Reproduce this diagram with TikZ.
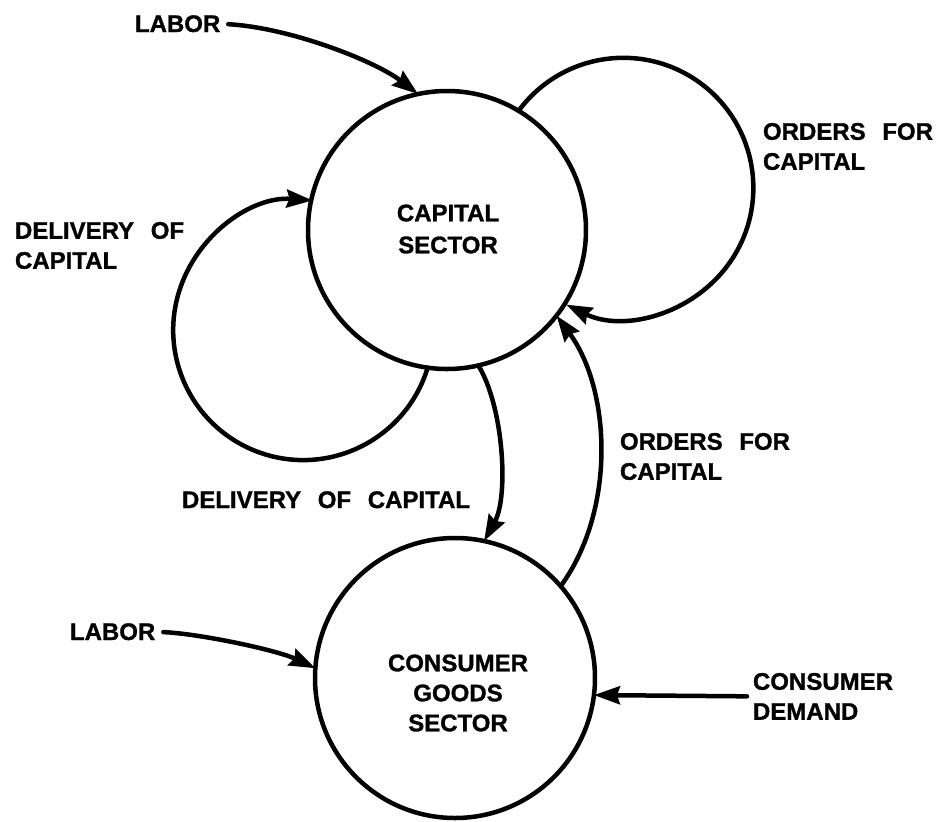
\documentclass[tikz,border=0pt]{standalone}
\usepackage{fontspec}
\setmainfont{Liberation Sans}[WordSpace=2.5, BoldFeatures={FakeBold=1.2}]
\usetikzlibrary{arrows.meta}
\newcommand\lettering{\bfseries\fontsize{12pt}{15pt}\selectfont}
\tikzset{
  sector/.style={circle, draw, line width=2.25pt, inner sep=0pt, outer sep=0pt},
  ctext/.style={inner sep=0pt, outer sep=0pt, align=center, font=\lettering},
  lbl/.style={inner sep=0pt, outer sep=0pt, align=left, font=\lettering},
  flow/.style={line width=2.25pt, line cap=round, -{Stealth[length=13pt,width=9pt,inset=1.5pt]}},
}
\begin{document}
\begin{tikzpicture}[x=0.5pt, y=0.5pt]
\useasboundingbox (0,0) rectangle (939,-821);
% sectors
\node[sector, minimum size=139pt] (cap) at (447,-230) {};
\node[ctext] (capT) at (448,-229) {CAPITAL\\[1pt]SECTOR};
\node[sector, minimum size=140pt] (cons) at (455,-678) {};
\node[ctext] (consT) at (458,-693) {CONSUMER\\GOODS\\SECTOR};
% labels
\node[lbl, anchor=base west] (labor1) at (135,-32) {LABOR};
\node[lbl, anchor=base west] (labor2) at (70,-640) {LABOR};
\node[lbl, anchor=north west] (dem) at (753,-673) {CONSUMER\\DEMAND};
\node[lbl, anchor=north west] (ord1) at (763,-123) {ORDERS FOR\\CAPITAL};
\node[lbl, anchor=north west] (ord2) at (620,-433) {ORDERS FOR\\CAPITAL};
\node[lbl, anchor=north west] (del1) at (15,-222) {DELIVERY OF\\CAPITAL};
\node[lbl, anchor=base west] (del2) at (182,-508) {DELIVERY OF CAPITAL};
% connectors
\draw[flow, shorten <=4pt] (labor1.east) .. controls +(70,-4) and +(-43,33) .. (cap.102);
\draw[flow, shorten <=4pt] (labor2.east) .. controls +(45,-2) and +(-38,18) .. (cons.176);
\draw[flow, shorten <=3pt] (dem.west) -- (cons.-7.8);
\draw[flow] (cap.59.7) arc[start angle=143.7, end angle=-116.1, radius=65pt];
\draw[flow] (cap.-98.5) arc[start angle=-16.8, end angle=-274.1, radius=65pt];
\draw[flow] (cap.-77) .. controls +(25,-40) and +(25,45) .. (cons.78);
\draw[flow] (cons.41) .. controls +(55,75) and +(55,-75) .. (cap.-38.4);
\end{tikzpicture}
\end{document}
